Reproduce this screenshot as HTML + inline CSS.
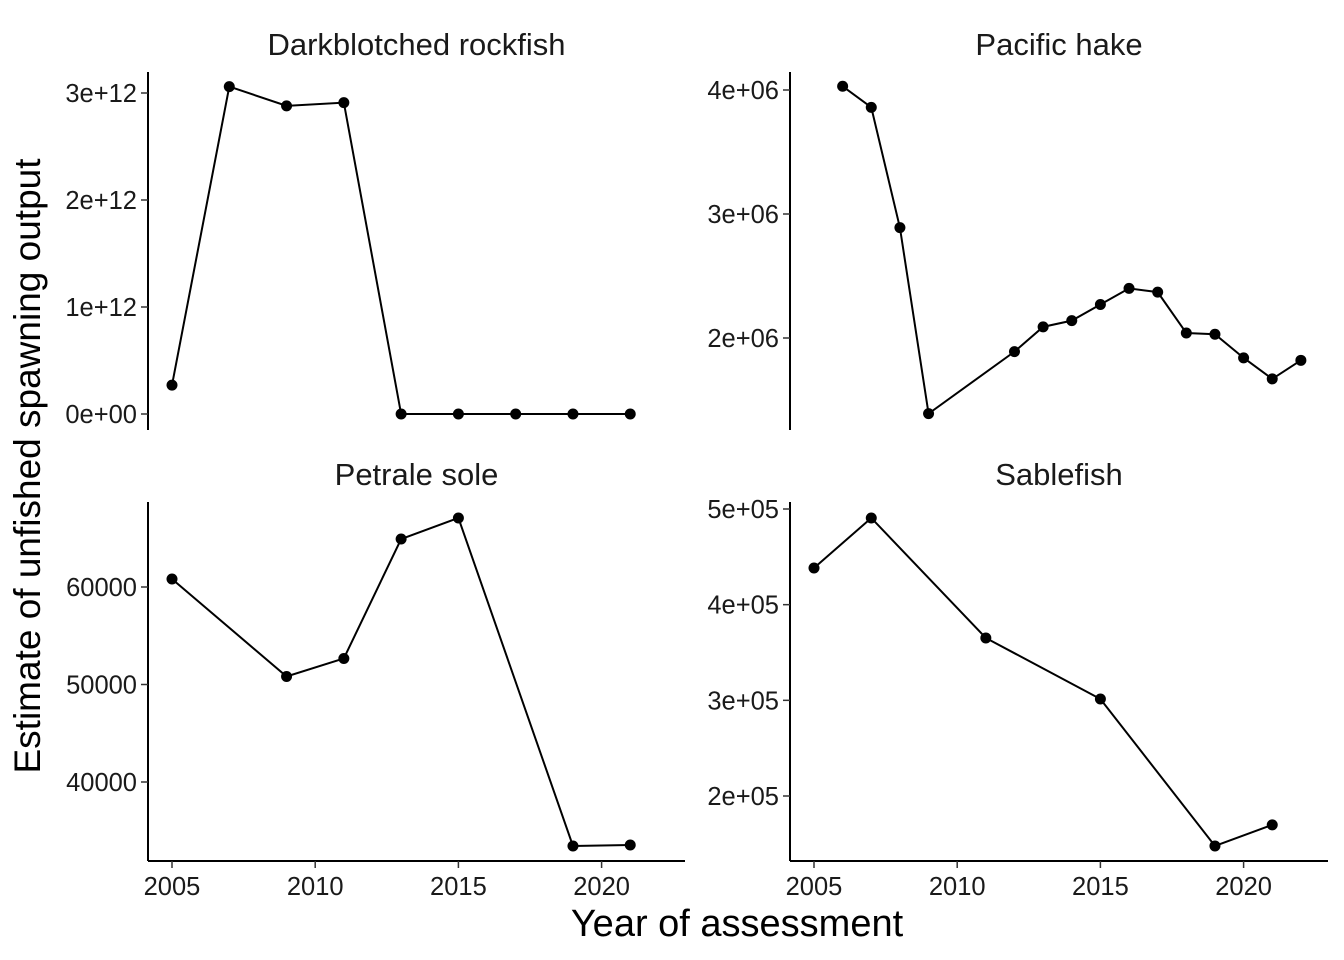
<!DOCTYPE html>
<html><head><meta charset="utf-8"><style>
body{margin:0;background:#fff}
svg{font-family:"Liberation Sans",Arial,sans-serif;display:block}
</style></head><body>
<svg id="c" width="1344" height="960"></svg>
<script>
const titles=["Darkblotched rockfish","Pacific hake","Petrale sole","Sablefish"];
const dbYears=[2005,2007,2009,2011,2013,2015,2017,2019,2021];
const dbVals=[0.27e12,3.06e12,2.88e12,2.91e12,0,0,0,0,0];
const hkYears=[2006,2007,2008,2009,2012,2013,2014,2015,2016,2017,2018,2019,2020,2021,2022];
const hkVals=[4.03e6,3.86e6,2.89e6,1.39e6,1.89e6,2.09e6,2.14e6,2.27e6,2.40e6,2.37e6,2.04e6,2.03e6,1.84e6,1.67e6,1.82e6];
const psYears=[2005,2009,2011,2013,2015,2019,2021];
const psVals=[60820,50820,52670,64920,67080,33440,33540];
const sbYears=[2005,2007,2011,2015,2019,2021];
const sbVals=[438300,490600,365200,301400,147800,169800];
const xTicks=[2005,2010,2015,2020];
const dbTicks=[0,1e12,2e12,3e12],dbLabels=["0e+00","1e+12","2e+12","3e+12"];
const hkTicks=[2e6,3e6,4e6],hkLabels=["2e+06","3e+06","4e+06"];
const psTicks=[40000,50000,60000],psLabels=["40000","50000","60000"];
const sbTicks=[2e5,3e5,4e5,5e5],sbLabels=["2e+05","3e+05","4e+05","5e+05"];
const NS="http://www.w3.org/2000/svg",svg=document.getElementById('c');
function mk(t,a,p){const e=document.createElementNS(NS,t);for(const k in a)e.setAttribute(k,a[k]);(p||svg).appendChild(e);return e;}
const panels=[
 {x0:148,x1:685,top:72,bot:430,y0:0,py0:414,y1:3e12,py1:93,years:dbYears,vals:dbVals,ticks:dbTicks,labels:dbLabels,xaxis:false,name:"darkblotched"},
 {x0:790,x1:1328,top:72,bot:430,y0:2e6,py0:338,y1:4e6,py1:90,years:hkYears,vals:hkVals,ticks:hkTicks,labels:hkLabels,xaxis:false,name:"hake"},
 {x0:148,x1:685,top:502,bot:861,y0:40000,py0:782,y1:60000,py1:587,years:psYears,vals:psVals,ticks:psTicks,labels:psLabels,xaxis:true,name:"petrale"},
 {x0:790,x1:1328,top:502,bot:861,y0:2e5,py0:796,y1:5e5,py1:509,years:sbYears,vals:sbVals,ticks:sbTicks,labels:sbLabels,xaxis:true,name:"sablefish"}];
panels.forEach((p,i)=>{
 const dx=p.x0+24;
 const X=v=>dx+(v-2005)*(143.2/5);
 const Y=v=>p.py0+(v-p.y0)*(p.py1-p.py0)/(p.y1-p.y0);
 const g=mk('g',{});
 
 
 const t=mk('text',{x:(p.x0+p.x1)/2,y:p.top-17,'text-anchor':'middle','font-size':31,fill:'#1a1a1a'},g);
 t.textContent=titles[i];
 
 
 const ya=mk('line',{x1:p.x0,x2:p.x0,y1:p.top,y2:p.bot,stroke:'#000','stroke-width':2},g);
 
 
 p.ticks.forEach((tv,j)=>{
  const y=Y(tv);
  mk('line',{x1:p.x0-7,x2:p.x0,y1:y,y2:y,stroke:'#333','stroke-width':1.5},g);
  const l=mk('text',{x:p.x0-11,y:y+9,'text-anchor':'end','font-size':25.5,fill:'#1a1a1a'},g);
  l.textContent=p.labels[j];
  
  
 });
 if(p.xaxis){
  const xa=mk('line',{x1:p.x0,x2:p.x1,y1:p.bot,y2:p.bot,stroke:'#000','stroke-width':2},g);
  
  
  xTicks.forEach(tv=>{
   const x=X(tv);
   mk('line',{x1:x,x2:x,y1:p.bot,y2:p.bot+7,stroke:'#333','stroke-width':1.5},g);
   const l=mk('text',{x:x,y:p.bot+34,'text-anchor':'middle','font-size':25.5,fill:'#1a1a1a'},g);
   l.textContent=tv;
   
   
  });
 }
 const pts=p.years.map((yr,k)=>X(yr)+','+Y(p.vals[k])).join(' ');
 const pl=mk('polyline',{points:pts,fill:'none',stroke:'#000','stroke-width':2},g);
 
 
 p.years.forEach((yr,k)=>{
  const c=mk('circle',{cx:X(yr),cy:Y(p.vals[k]),r:5.5,fill:'#000'},g);
  
  
 });
});
const xt=mk('text',{x:737,y:936,'text-anchor':'middle','font-size':38,fill:'#000'});
xt.textContent="Year of assessment";


const yt=mk('text',{x:0,y:0,'text-anchor':'middle','font-size':37,fill:'#000',transform:'translate(40,466) rotate(-90)'});
yt.textContent="Estimate of unfished spawning output";


</script>
</body></html>
